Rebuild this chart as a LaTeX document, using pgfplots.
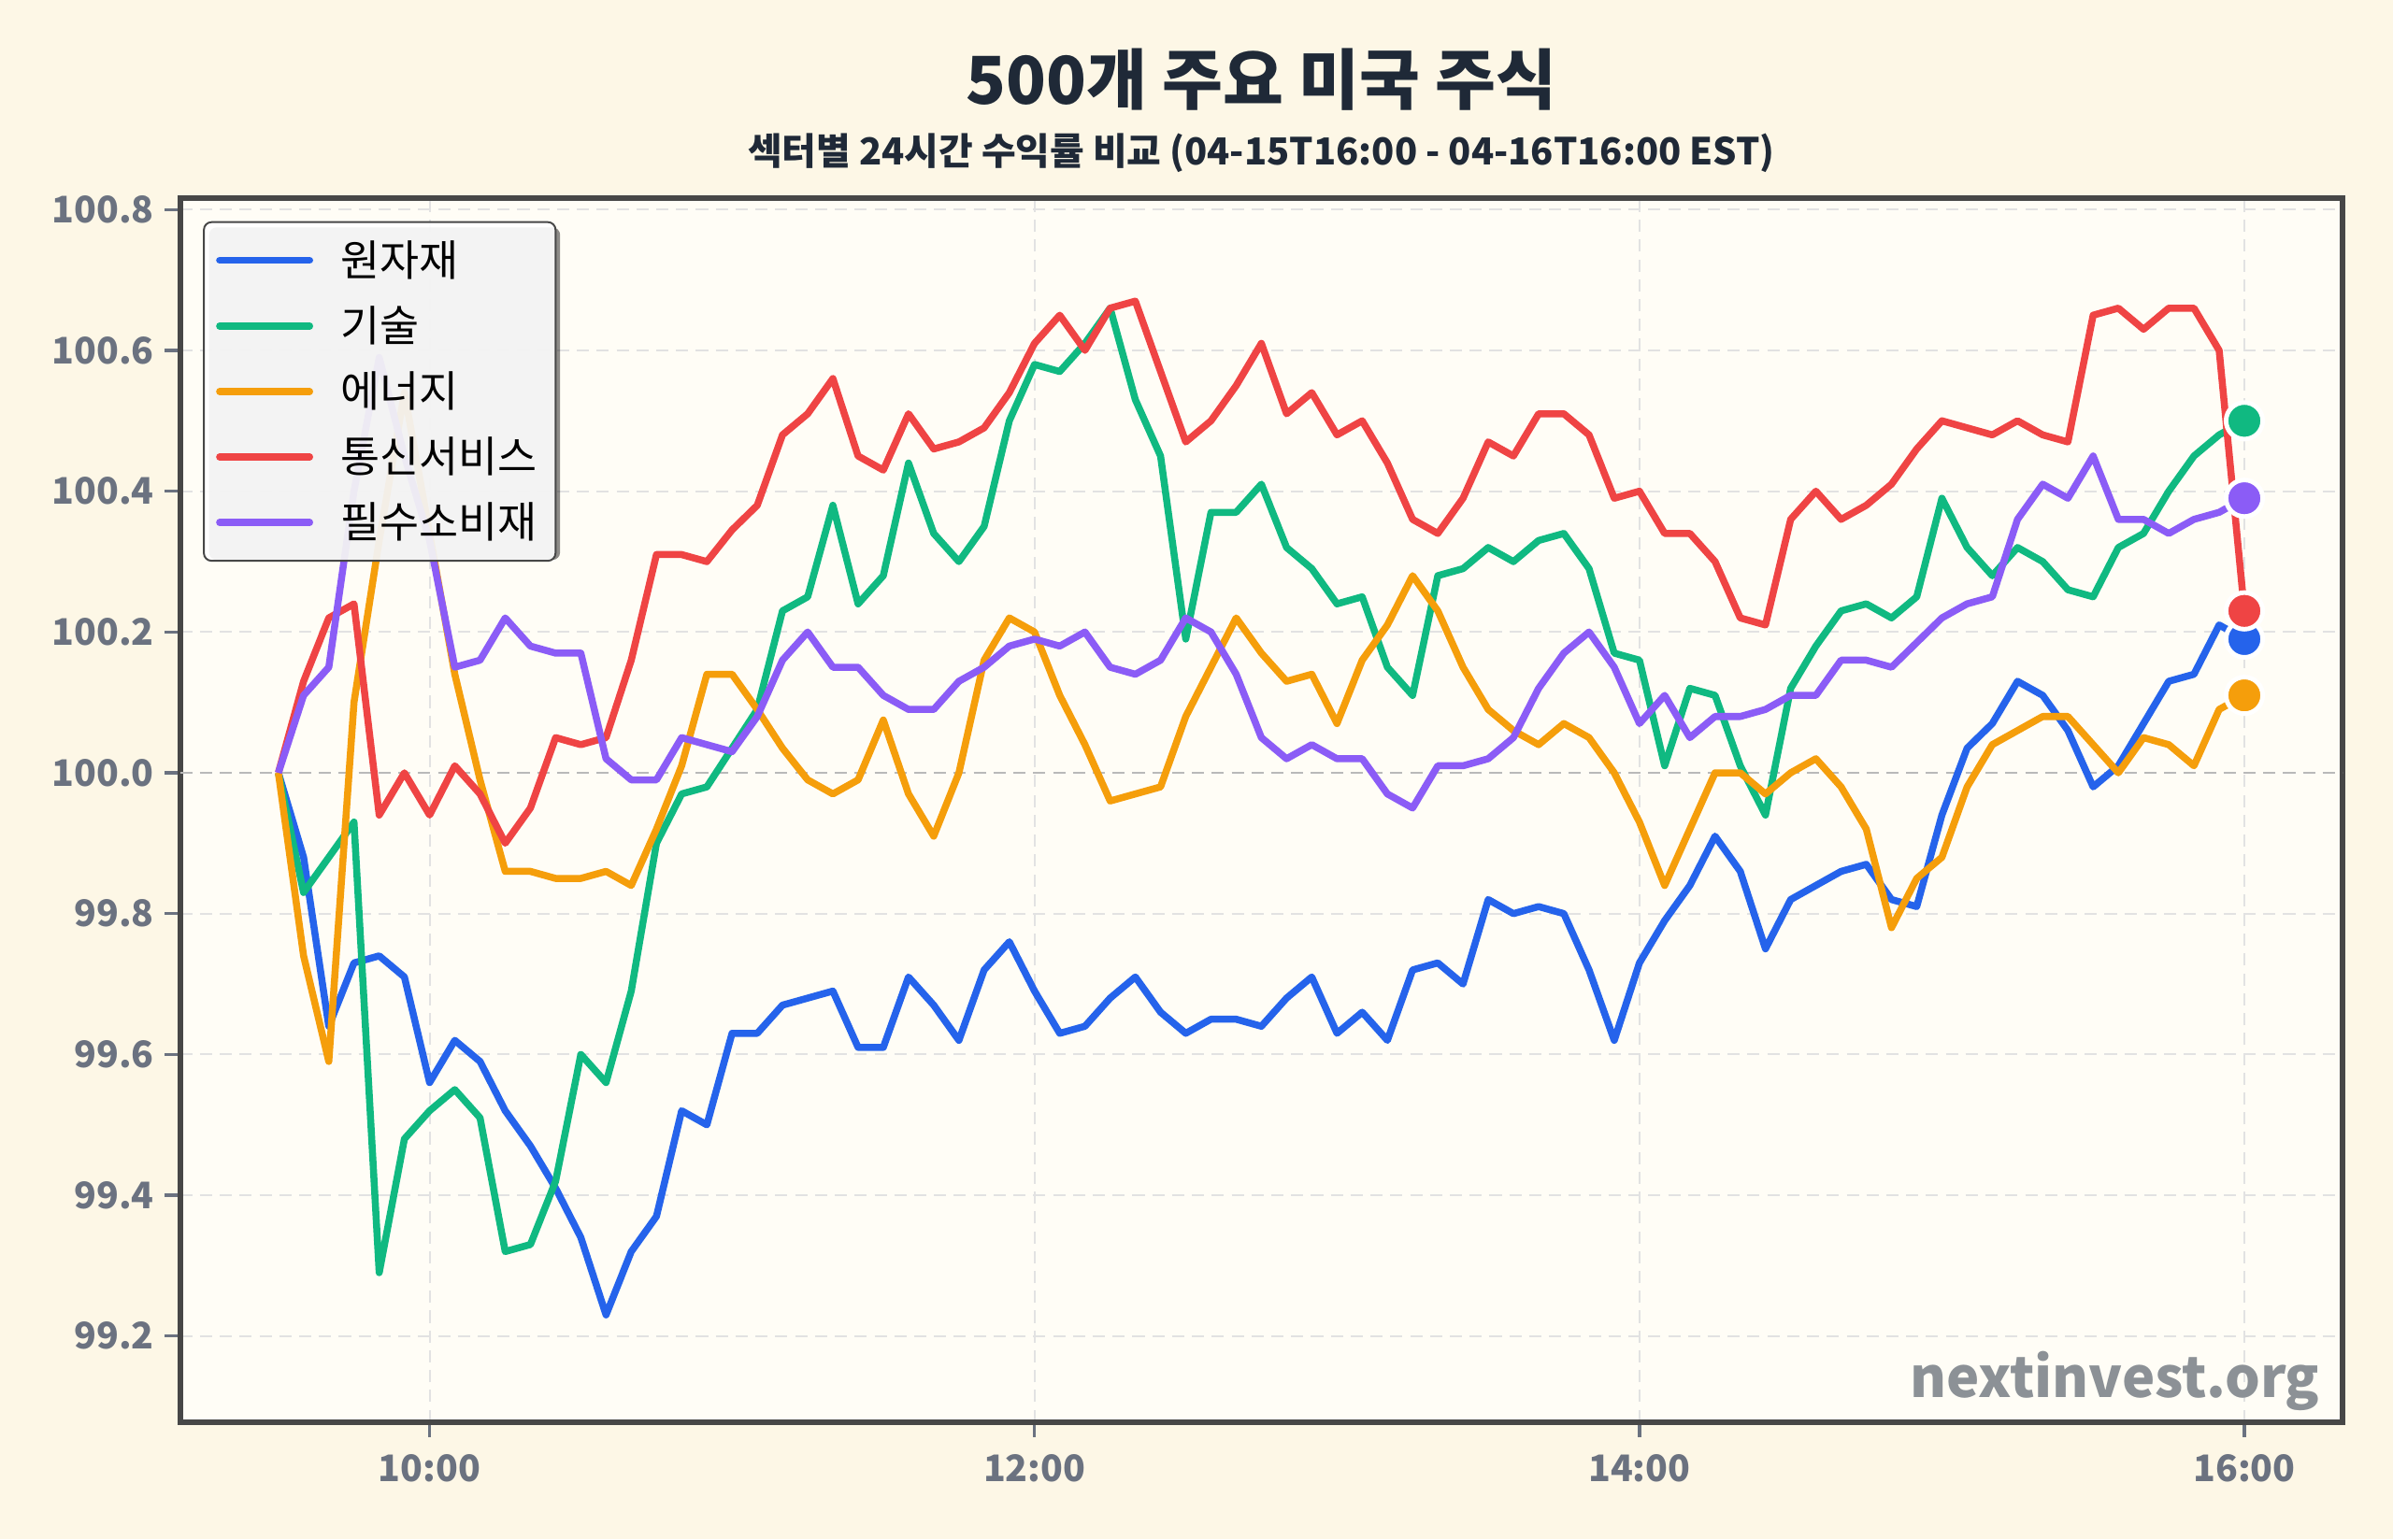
\documentclass[border=0pt]{standalone}
\usepackage{pgfplots}
\pgfplotsset{compat=1.18}
\usepackage{pgfplotstable}
\usepackage{fontspec}
\setmainfont{Noto Sans CJK KR}
\definecolor{cB}{HTML}{2563EB}
\definecolor{cG}{HTML}{10B981}
\definecolor{cO}{HTML}{F59E0B}
\definecolor{cR}{HTML}{EF4444}
\definecolor{cP}{HTML}{8B5CF6}
\definecolor{bgout}{HTML}{FDF7E6}
\definecolor{bgin}{HTML}{FFFDF6}
\definecolor{frame}{HTML}{474747}
\definecolor{tickc}{HTML}{6B7280}
\definecolor{gridc}{HTML}{E2E2E2}
\definecolor{titlec}{HTML}{1F2937}
\definecolor{wmark}{HTML}{8C9196}

\pgfplotstableread{
i b g o r p
0 100.00 100.00 100.00 100.00 100.00
1 99.88 99.83 99.74 100.13 100.11
2 99.64 99.88 99.59 100.22 100.15
3 99.73 99.93 100.10 100.24 100.40
4 99.74 99.29 100.33 99.94 100.59
5 99.71 99.48 100.54 100.00 100.45
6 99.56 99.52 100.34 99.94 100.33
7 99.62 99.55 100.14 100.01 100.15
8 99.59 99.51 99.99 99.97 100.16
9 99.52 99.32 99.86 99.90 100.22
10 99.47 99.33 99.86 99.95 100.18
11 99.41 99.42 99.85 100.05 100.17
12 99.34 99.60 99.85 100.04 100.17
13 99.23 99.56 99.86 100.05 100.02
14 99.32 99.69 99.84 100.16 99.99
15 99.37 99.90 99.92 100.31 99.99
16 99.52 99.97 100.01 100.31 100.05
17 99.50 99.98 100.14 100.30 100.04
18 99.63 100.035 100.14 100.345 100.03
19 99.63 100.09 100.09 100.38 100.08
20 99.67 100.23 100.035 100.48 100.16
21 99.68 100.25 99.99 100.51 100.20
22 99.69 100.38 99.97 100.56 100.15
23 99.61 100.24 99.99 100.45 100.15
24 99.61 100.28 100.075 100.43 100.11
25 99.71 100.44 99.97 100.51 100.09
26 99.67 100.34 99.91 100.46 100.09
27 99.62 100.30 100.00 100.47 100.13
28 99.72 100.35 100.16 100.49 100.15
29 99.76 100.50 100.22 100.54 100.18
30 99.69 100.58 100.20 100.61 100.19
31 99.63 100.57 100.11 100.65 100.18
32 99.64 100.61 100.04 100.60 100.20
33 99.68 100.66 99.96 100.66 100.15
34 99.71 100.53 99.97 100.67 100.14
35 99.66 100.45 99.98 100.57 100.16
36 99.63 100.19 100.08 100.47 100.22
37 99.65 100.37 100.15 100.50 100.20
38 99.65 100.37 100.22 100.55 100.14
39 99.64 100.41 100.17 100.61 100.05
40 99.68 100.32 100.13 100.51 100.02
41 99.71 100.29 100.14 100.54 100.04
42 99.63 100.24 100.07 100.48 100.02
43 99.66 100.25 100.16 100.50 100.02
44 99.62 100.15 100.21 100.44 99.97
45 99.72 100.11 100.28 100.36 99.95
46 99.73 100.28 100.23 100.34 100.01
47 99.70 100.29 100.15 100.39 100.01
48 99.82 100.32 100.09 100.47 100.02
49 99.80 100.30 100.06 100.45 100.05
50 99.81 100.33 100.04 100.51 100.12
51 99.80 100.34 100.07 100.51 100.17
52 99.72 100.29 100.05 100.48 100.20
53 99.62 100.17 100.00 100.39 100.15
54 99.73 100.16 99.93 100.40 100.07
55 99.79 100.01 99.84 100.34 100.11
56 99.84 100.12 99.92 100.34 100.05
57 99.91 100.11 100.00 100.30 100.08
58 99.86 100.01 100.00 100.22 100.08
59 99.75 99.94 99.97 100.21 100.09
60 99.82 100.12 100.00 100.36 100.11
61 99.84 100.18 100.02 100.40 100.11
62 99.86 100.23 99.98 100.36 100.16
63 99.87 100.24 99.92 100.38 100.16
64 99.82 100.22 99.78 100.41 100.15
65 99.81 100.25 99.85 100.46 100.185
66 99.94 100.39 99.88 100.50 100.22
67 100.035 100.32 99.98 100.49 100.24
68 100.07 100.28 100.04 100.48 100.25
69 100.13 100.32 100.06 100.50 100.36
70 100.11 100.30 100.08 100.48 100.41
71 100.06 100.26 100.08 100.47 100.39
72 99.98 100.25 100.04 100.65 100.45
73 100.01 100.32 100.00 100.66 100.36
74 100.07 100.34 100.05 100.63 100.36
75 100.13 100.40 100.04 100.66 100.34
76 100.14 100.45 100.01 100.66 100.36
77 100.21 100.48 100.09 100.60 100.37
78 100.19 100.50 100.11 100.23 100.39
}\datatable

\pgfplotsset{
  mylegimg/.style={legend image code/.code={\draw[##1, mark=none, line cap=round, line width=2.3pt] (0pt,0pt) -- (29.5pt,0pt);}},
  ser/.style={color=#1, mark=none, line width=2.3pt, line join=round},
  dot/.style={forget plot, only marks, mark=*, mark size=6pt, mark options={fill=#1, draw=white, line width=1.5pt}},
}

\begin{document}
\begin{tikzpicture}
\useasboundingbox (0,0) rectangle (784pt,504.5pt);
\fill[bgout] (0,0) rectangle (784pt,504.5pt);
\node[font=\fontsize{21.6}{25}\selectfont\bfseries, text=titlec] at (413.25pt,478.5pt) {500개 주요 미국 주식};
\node[font=\fontsize{12.2}{14}\selectfont\bfseries, text=titlec] at (413.25pt,454.5pt) {섹터별 24시간 수익률 비교 (04-15T16:00 - 04-16T16:00 EST)};
\begin{axis}[
  at={(59pt,38.5pt)}, anchor=south west,
  scale only axis, width=708.5pt, height=401pt,
  xmin=-3.9, xmax=81.9, ymin=99.078, ymax=100.816,
  axis background/.style={fill=bgin},
  axis line style={draw=frame, line width=1.75pt},
  xtick={6,30,54,78}, xticklabels={10:00,12:00,14:00,16:00},
  ytick={99.2,99.4,99.6,99.8,100.0,100.2,100.4,100.6,100.8},
  yticklabel style={/pgf/number format/.cd, fixed, fixed zerofill, precision=1},
  xticklabel style={yshift=-2pt},
  /pgf/number format/assume math mode=true,
  tick label style={font=\fontsize{12}{14}\selectfont\bfseries, text=tickc},
  tick align=outside, tick pos=left, major tick length=5pt,
  every tick/.style={draw=tickc, line width=1pt},
  grid=major,
  major grid style={draw=gridc, line width=0.6pt, dash pattern=on 4pt off 2.5pt},
  legend style={at={(0,1)}, anchor=north west, xshift=7.5pt, yshift=-7.5pt,
    draw=frame, fill=white, fill opacity=0.9, text opacity=1, draw opacity=1,
    rounded corners=2.5pt, line width=0.6pt,
    font=\fontsize{14}{16}\selectfont, row sep=4.4pt,
    inner xsep=4pt, inner ysep=4pt, cells={anchor=west},
    /tikz/every odd column/.append style={column sep=7pt}},
  mylegimg,
]
\addplot[forget plot, draw=gray!55, line width=0.8pt, dash pattern=on 4pt off 2.5pt] coordinates {(-3.9,100) (81.9,100)};
\addplot[ser=cB] table[x=i, y=b] {\datatable};
\addlegendentry{원자재}
\addplot[ser=cG] table[x=i, y=g] {\datatable};
\addlegendentry{기술}
\addplot[ser=cO] table[x=i, y=o] {\datatable};
\addlegendentry{에너지}
\addplot[ser=cR] table[x=i, y=r] {\datatable};
\addlegendentry{통신서비스}
\addplot[ser=cP] table[x=i, y=p] {\datatable};
\addlegendentry{필수소비재}
\addplot[dot=cB] coordinates {(78,100.19)};
\addplot[dot=cG] coordinates {(78,100.50)};
\addplot[dot=cO] coordinates {(78,100.11)};
\addplot[dot=cR] coordinates {(78,100.23)};
\addplot[dot=cP] coordinates {(78,100.39)};
\fill[black, opacity=0.45, rounded corners=2.5pt] ([xshift=9.5pt,yshift=-9.5pt]rel axis cs:0,1) rectangle ([xshift=124.5pt,yshift=-118.5pt]rel axis cs:0,1);
\node[anchor=base east, font=\fontsize{18.2}{20}\selectfont\bfseries, text=wmark] at (rel axis cs:1,0) [xshift=-4pt, yshift=8pt] {nextinvest.org};
\end{axis}
\end{tikzpicture}
\end{document}
